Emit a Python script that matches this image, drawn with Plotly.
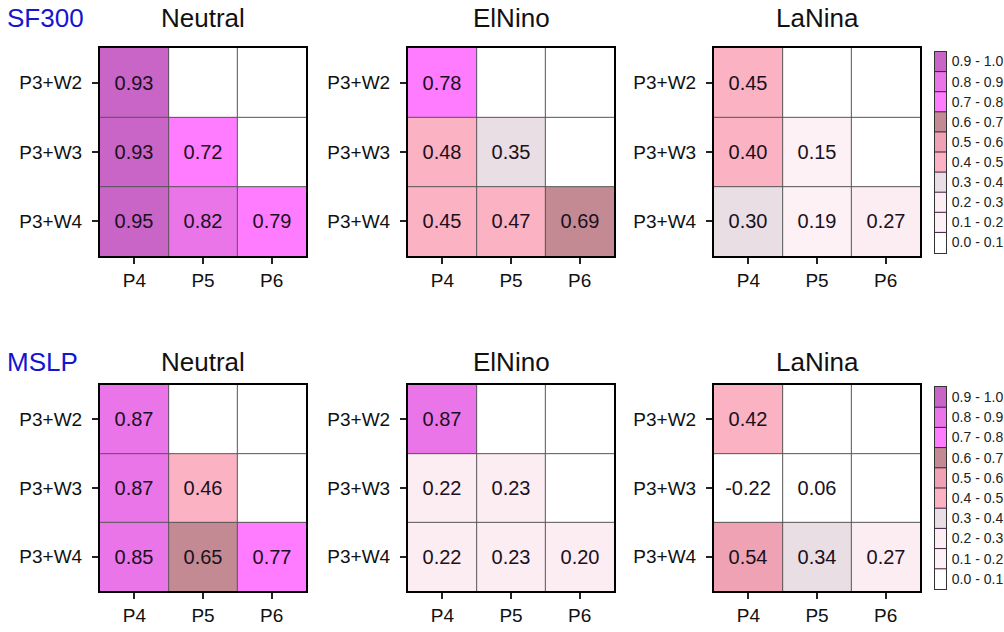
import plotly.graph_objects as go

# --- data -------------------------------------------------------------
cols = ["P4", "P5", "P6"]
rows = ["P3+W2", "P3+W3", "P3+W4"]
phases = ["Neutral", "ElNino", "LaNina"]
variables = ["SF300", "MSLP"]

# lower-triangular correlation tables (None = not computed)
sf300_neutral = [[0.93, None, None], [0.93, 0.72, None], [0.95, 0.82, 0.79]]
sf300_elnino = [[0.78, None, None], [0.48, 0.35, None], [0.45, 0.47, 0.69]]
sf300_lanina = [[0.45, None, None], [0.40, 0.15, None], [0.30, 0.19, 0.27]]
mslp_neutral = [[0.87, None, None], [0.87, 0.46, None], [0.85, 0.65, 0.77]]
mslp_elnino = [[0.87, None, None], [0.22, 0.23, None], [0.22, 0.23, 0.20]]
mslp_lanina = [[0.42, None, None], [-0.22, 0.06, None], [0.54, 0.34, 0.27]]

tables = [
    [sf300_neutral, sf300_elnino, sf300_lanina],
    [mslp_neutral, mslp_elnino, mslp_lanina],
]

bin_labels = ["0.0 - 0.1", "0.1 - 0.2", "0.2 - 0.3", "0.3 - 0.4", "0.4 - 0.5",
              "0.5 - 0.6", "0.6 - 0.7", "0.7 - 0.8", "0.8 - 0.9", "0.9 - 1.0"]
bin_colors = ["#FFFFFF", "#FDF1F5", "#FBEDF2", "#E9DEE3", "#FBB2C2",
              "#EEA2B3", "#C38A94", "#FF7BFF", "#E975E8", "#C965C7"]

# --- layout geometry (pixels) ----------------------------------------
W, H = 1004, 632
panel_x = [(100, 306), (408, 614), (714, 920)]
panel_y = [(48, 256), (385, 591)]
legend_x = (935, 946)
legend_y = [(51.5, 252.5), (387, 589)]
title_y = [18, 362]

FONT = "Liberation Sans, Arial, sans-serif"


def fx(a, b):
    return [a / W, b / W]


def fy(top, bottom):
    return [1 - bottom / H, 1 - top / H]


# discrete colour scale: each bin [i/10, (i+1)/10) gets one flat colour
eps = 1e-4
colorscale = []
for i, c in enumerate(bin_colors):
    lo = 0.0 if i == 0 else i / 10 - eps
    hi = 1.0 if i == 9 else (i + 1) / 10 - eps
    colorscale.append([lo, c])
    colorscale.append([hi, c])

fig = go.Figure()
shapes = []
annotations = []
layout_axes = {}

ax = 0
for r, var in enumerate(variables):
    for c, phase in enumerate(phases):
        ax += 1
        xname = "x" if ax == 1 else f"x{ax}"
        yname = "y" if ax == 1 else f"y{ax}"
        z = tables[r][c]
        text = [["" if v is None else f"{v:.2f}" for v in row] for row in z]
        fig.add_trace(go.Heatmap(
            z=z, x=[0, 1, 2], y=[0, 1, 2], text=text, texttemplate="%{text}",
            textfont=dict(size=20, color="#1a1020", family=FONT),
            colorscale=colorscale, zmin=0, zmax=1, showscale=False,
            hoverinfo="skip", xaxis=xname, yaxis=yname,
        ))
        axis_common = dict(showline=True, mirror=True, linecolor="black",
                           linewidth=2, showgrid=False, zeroline=False,
                           ticks="outside", ticklen=6, tickwidth=2,
                           tickcolor="#222", fixedrange=True,
                           tickfont=dict(size=19, color="#111", family=FONT))
        layout_axes[f"xaxis{ax}" if ax > 1 else "xaxis"] = dict(
            domain=fx(*panel_x[c]), anchor=yname, range=[-0.5, 2.5],
            tickvals=[0, 1, 2], ticktext=cols, **axis_common)
        layout_axes[f"yaxis{ax}" if ax > 1 else "yaxis"] = dict(
            domain=fy(*panel_y[r]), anchor=xname, range=[2.5, -0.5],
            tickvals=[0, 1, 2], ticktext=rows, ticklabelstandoff=6,
            **axis_common)
        # inner cell borders
        for k in (0.5, 1.5):
            shapes.append(dict(type="line", xref=xname, yref=yname,
                               x0=k, x1=k, y0=-0.5, y1=2.5,
                               line=dict(color="#555", width=1)))
            shapes.append(dict(type="line", xref=xname, yref=yname,
                               x0=-0.5, x1=2.5, y0=k, y1=k,
                               line=dict(color="#555", width=1)))
        # panel title
        annotations.append(dict(
            text=phase, xref="paper", yref="paper",
            x=sum(panel_x[c]) / 2 / W, y=1 - title_y[r] / H,
            xanchor="center", yanchor="middle", showarrow=False,
            font=dict(size=26, color="#111", family=FONT)))
    # variable label
    annotations.append(dict(
        text=var, xref="paper", yref="paper", x=5 / W, y=1 - title_y[r] / H,
        xanchor="left", yanchor="middle", showarrow=False,
        font=dict(size=26, color="#1515D0", family=FONT)))

    # colour key for this row
    ax += 1
    xname, yname = f"x{ax}", f"y{ax}"
    fig.add_trace(go.Heatmap(
        z=[[i / 10 + 0.05] for i in range(10)], x=[0], y=list(range(10)),
        colorscale=colorscale, zmin=0, zmax=1, showscale=False,
        hoverinfo="skip", xaxis=xname, yaxis=yname,
    ))
    layout_axes[f"xaxis{ax}"] = dict(
        domain=fx(*legend_x), anchor=yname, range=[-0.5, 0.5],
        showticklabels=False, ticks="", showgrid=False, zeroline=False,
        showline=True, mirror=True, linecolor="#333", linewidth=1,
        fixedrange=True)
    layout_axes[f"yaxis{ax}"] = dict(
        domain=fy(*legend_y[r]), anchor=xname, range=[-0.5, 9.5],
        side="right", tickvals=list(range(10)), ticktext=bin_labels,
        ticks="", showgrid=False, zeroline=False, showline=True,
        mirror=True, linecolor="#333", linewidth=1, fixedrange=True,
        ticklabelstandoff=2,
        tickfont=dict(size=14, color="#222", family=FONT))
    for k in range(9):
        shapes.append(dict(type="line", xref=xname, yref=yname,
                           x0=-0.5, x1=0.5, y0=k + 0.5, y1=k + 0.5,
                           line=dict(color="#3a1a3a", width=1)))

fig.update_layout(
    width=W, height=H, margin=dict(l=0, r=0, t=0, b=0),
    paper_bgcolor="white", plot_bgcolor="white",
    shapes=shapes, annotations=annotations, **layout_axes,
)

fig.write_html("out.html")
